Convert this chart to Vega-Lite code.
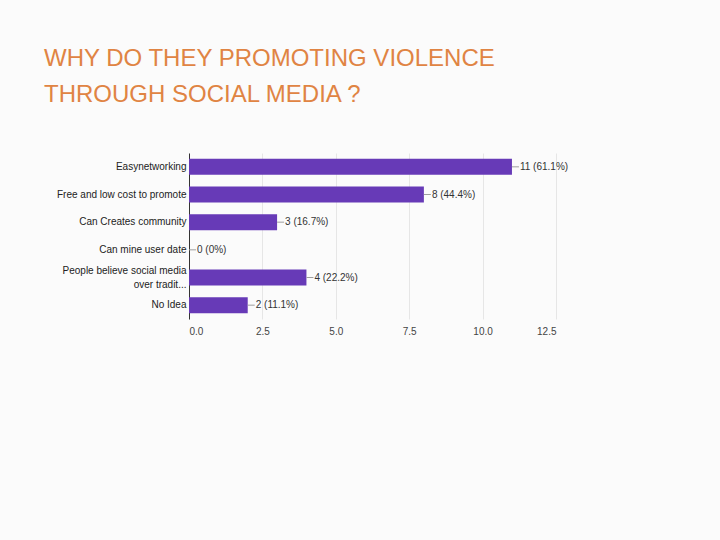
{
  "$schema": "https://vega.github.io/schema/vega-lite/v6.json",
  "width": 367,
  "height": 166,
  "autosize": {"type": "none"},
  "padding": {"left": 189, "top": 153, "right": 164, "bottom": 221},
  "background": "#fbfbfb",
  "title": {
    "text": ["WHY DO THEY PROMOTING VIOLENCE", "THROUGH SOCIAL MEDIA ?"],
    "anchor": "start",
    "frame": "group",
    "dx": -145,
    "dy": -42,
    "baseline": "top",
    "lineHeight": 36,
    "font": "Liberation Sans",
    "fontSize": 24,
    "fontWeight": "normal",
    "color": "#e08443"
  },
  "data": {
    "values": [
      {"reason": "Easynetworking", "count": 11, "label": "11 (61.1%)"},
      {"reason": "Free and low cost to promote", "count": 8, "label": "8 (44.4%)"},
      {"reason": "Can Creates community", "count": 3, "label": "3 (16.7%)"},
      {"reason": "Can mine user date", "count": 0, "label": "0 (0%)"},
      {"reason": "People believe social media|over tradit...", "count": 4, "label": "4 (22.2%)"},
      {"reason": "No Idea", "count": 2, "label": "2 (11.1%)"}
    ]
  },
  "encoding": {
    "y": {
      "field": "reason",
      "type": "nominal",
      "sort": null,
      "scale": {"paddingInner": 0.42, "paddingOuter": 0.21},
      "axis": {
        "title": null,
        "domain": true,
        "domainColor": "#333333",
        "ticks": false,
        "labelPadding": 3,
        "labelFont": "Liberation Sans",
        "labelFontSize": 10,
        "labelColor": "#222222",
        "labelExpr": "split(datum.value, '|')",
        "labelLineHeight": 14,
        "labelOffset": {"condition": {"test": "indexof(datum.value, '|') >= 0", "value": -7}, "value": 0},
        "grid": false
      }
    }
  },
  "layer": [
    {
      "mark": {"type": "bar", "color": "#673ab7"},
      "encoding": {
        "x": {
          "field": "count",
          "type": "quantitative",
          "scale": {"domain": [0, 12.5], "nice": false},
          "axis": {
            "title": null,
            "values": [0, 2.5, 5, 7.5, 10, 12.5],
            "format": ".1f",
            "grid": true,
            "gridColor": "#e6e6e6",
            "domain": false,
            "ticks": false,
            "labelPadding": 7,
            "labelFont": "Liberation Sans",
            "labelFontSize": 10,
            "labelColor": "#444444"
          }
        }
      }
    },
    {
      "mark": {"type": "rule", "x2Offset": 7, "color": "#9e9e9e", "strokeWidth": 1},
      "encoding": {
        "x": {"field": "count", "type": "quantitative"},
        "x2": {"field": "count"}
      }
    },
    {
      "mark": {"type": "text", "align": "left", "dx": 8, "font": "Liberation Sans", "fontSize": 10, "color": "#333333"},
      "encoding": {
        "x": {"field": "count", "type": "quantitative"},
        "text": {"field": "label"}
      }
    }
  ],
  "config": {"view": {"stroke": null}}
}
